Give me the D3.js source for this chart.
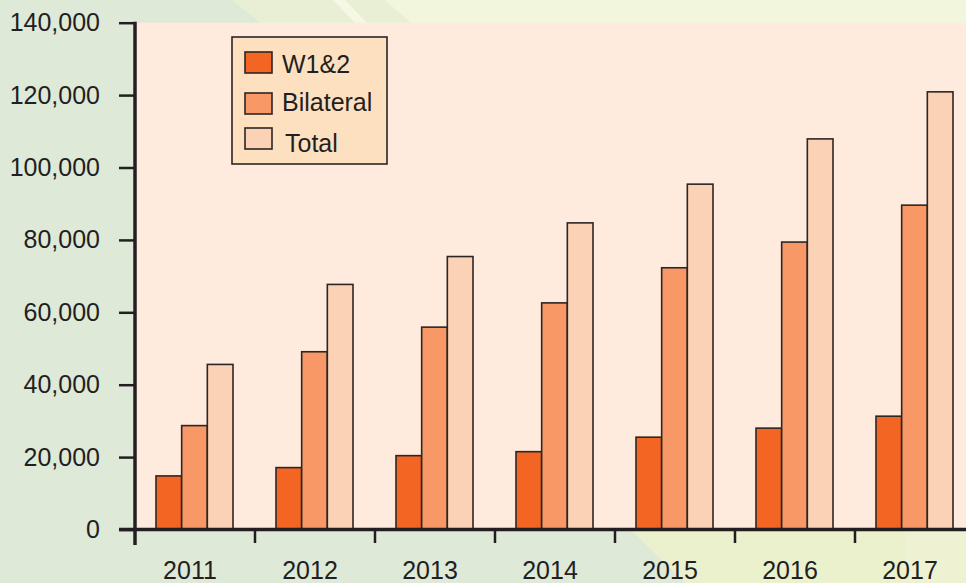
<!DOCTYPE html>
<html>
<head>
<meta charset="utf-8">
<script src="https://cdn.jsdelivr.net/npm/d3@7"></script>
<style>
  body { margin: 0; background: #dfe9d8; }
  svg { display: block; font-family: "Liberation Sans", Arial, sans-serif; }
</style>
</head>
<body>
<div id="chartContainer"></div>
<script>
const years = ["2011", "2012", "2013", "2014", "2015", "2016", "2017"];
const seriesNames = ["W1&2", "Bilateral", "Total"];
const w12 = [14800, 17100, 20400, 21500, 25500, 28000, 31300];
const bilateral = [28700, 49100, 55900, 62600, 72300, 79400, 89600];
const total = [45600, 67700, 75400, 84700, 95400, 107900, 120900];
const yTicks = [0, 20000, 40000, 60000, 80000, 100000, 120000, 140000];

const colors = ["#f26522", "#f79866", "#fcd2b6"];

const width = 966, height = 583;
const margin = { top: 22.7, left: 135, bottom: 529.5 };
const fontSize = "25px";

const data = years.map((y, i) => ({ year: y, values: [w12[i], bilateral[i], total[i]] }));

const svg = d3.select("#chartContainer")
  .append("svg")
  .attr("width", width)
  .attr("height", height);

// background decoration
svg.append("rect").attr("width", width).attr("height", height).attr("fill", "#dfe9d8");
svg.append("polygon").attr("points", "232,0 966,0 966,24 262,24").attr("fill", "#e9efd4");
svg.append("polygon").attr("points", "385,0 966,0 966,24 412,24").attr("fill", "#f2f6dc");
svg.append("polygon").attr("points", "333,0 345,0 368,24 356,24").attr("fill", "#f5f8e4");
svg.append("polygon").attr("points", "630,529 966,529 966,583 685,583").attr("fill", "#ebf0cd");
svg.append("polygon").attr("points", "905,529 966,529 966,583 905,583").attr("fill", "#eef2d3");

const x0 = d3.scaleBand()
  .domain(years)
  .range([margin.left, margin.left + 120 * years.length])
  .padding(0);

const x1 = d3.scaleBand()
  .domain(seriesNames)
  .range([21, 98]);

const y = d3.scaleLinear()
  .domain([0, 140000])
  .range([margin.bottom, margin.top]);

// plot area
svg.append("rect")
  .attr("x", margin.left)
  .attr("y", y(140000))
  .attr("width", width - margin.left)
  .attr("height", y(0) - y(140000))
  .attr("fill", "#feebde");

// bars
svg.selectAll(".group")
  .data(data)
  .enter()
  .append("g")
  .attr("class", "group")
  .attr("transform", d => `translate(${x0(d.year)},0)`)
  .selectAll("rect")
  .data(d => d.values.map((v, i) => ({ key: seriesNames[i], value: v, idx: i })))
  .enter()
  .append("rect")
  .attr("x", d => x1(d.key))
  .attr("y", d => y(d.value))
  .attr("width", x1.bandwidth())
  .attr("height", d => y(0) - y(d.value))
  .attr("fill", d => colors[d.idx])
  .attr("stroke", "#2b2625")
  .attr("stroke-width", 1.6);

// y axis
const yAxis = svg.append("g")
  .attr("transform", `translate(${margin.left},0)`)
  .call(d3.axisLeft(y)
    .tickValues(yTicks)
    .tickFormat(d3.format(","))
    .tickSize(16)
    .tickPadding(19));
yAxis.select(".domain").remove();
yAxis.selectAll(".tick line").attr("stroke", "#231f20").attr("stroke-width", 2.5);
yAxis.selectAll("text")
  .attr("fill", "#231f20")
  .style("font-size", fontSize);

// x axis line
svg.append("line")
  .attr("x1", 119).attr("x2", width)
  .attr("y1", y(0)).attr("y2", y(0))
  .attr("stroke", "#231f20").attr("stroke-width", 3.5);

// y axis line
svg.append("line")
  .attr("x1", margin.left).attr("x2", margin.left)
  .attr("y1", y(140000) - 1).attr("y2", 545)
  .attr("stroke", "#231f20").attr("stroke-width", 3.5);

// x ticks at band boundaries
svg.selectAll(".xtick")
  .data(years.slice(1))
  .enter()
  .append("line")
  .attr("class", "xtick")
  .attr("x1", d => x0(d)).attr("x2", d => x0(d))
  .attr("y1", y(0)).attr("y2", 543)
  .attr("stroke", "#231f20").attr("stroke-width", 2.5);

// x labels
svg.selectAll(".xlabel")
  .data(years)
  .enter()
  .append("text")
  .attr("class", "xlabel")
  .attr("x", d => x0(d) + 55)
  .attr("y", 579)
  .attr("text-anchor", "middle")
  .attr("fill", "#231f20")
  .style("font-size", fontSize)
  .text(d => d);

// legend
const legend = svg.append("g").attr("transform", "translate(232,37)");
legend.append("rect")
  .attr("width", 155).attr("height", 127)
  .attr("fill", "#fde0c0")
  .attr("stroke", "#2b2625").attr("stroke-width", 1.6);

const swatchY = [15, 56, 91];
const textY = [36, 74, 115];
seriesNames.forEach((name, i) => {
  legend.append("rect")
    .attr("x", 13).attr("y", swatchY[i])
    .attr("width", 27).attr("height", 21)
    .attr("fill", colors[i])
    .attr("stroke", "#2b2625").attr("stroke-width", 1.6);
  legend.append("text")
    .attr("x", i === 2 ? 53 : 50)
    .attr("y", textY[i])
    .attr("fill", "#231f20")
    .style("font-size", fontSize)
    .text(name);
});
</script>
</body>
</html>
